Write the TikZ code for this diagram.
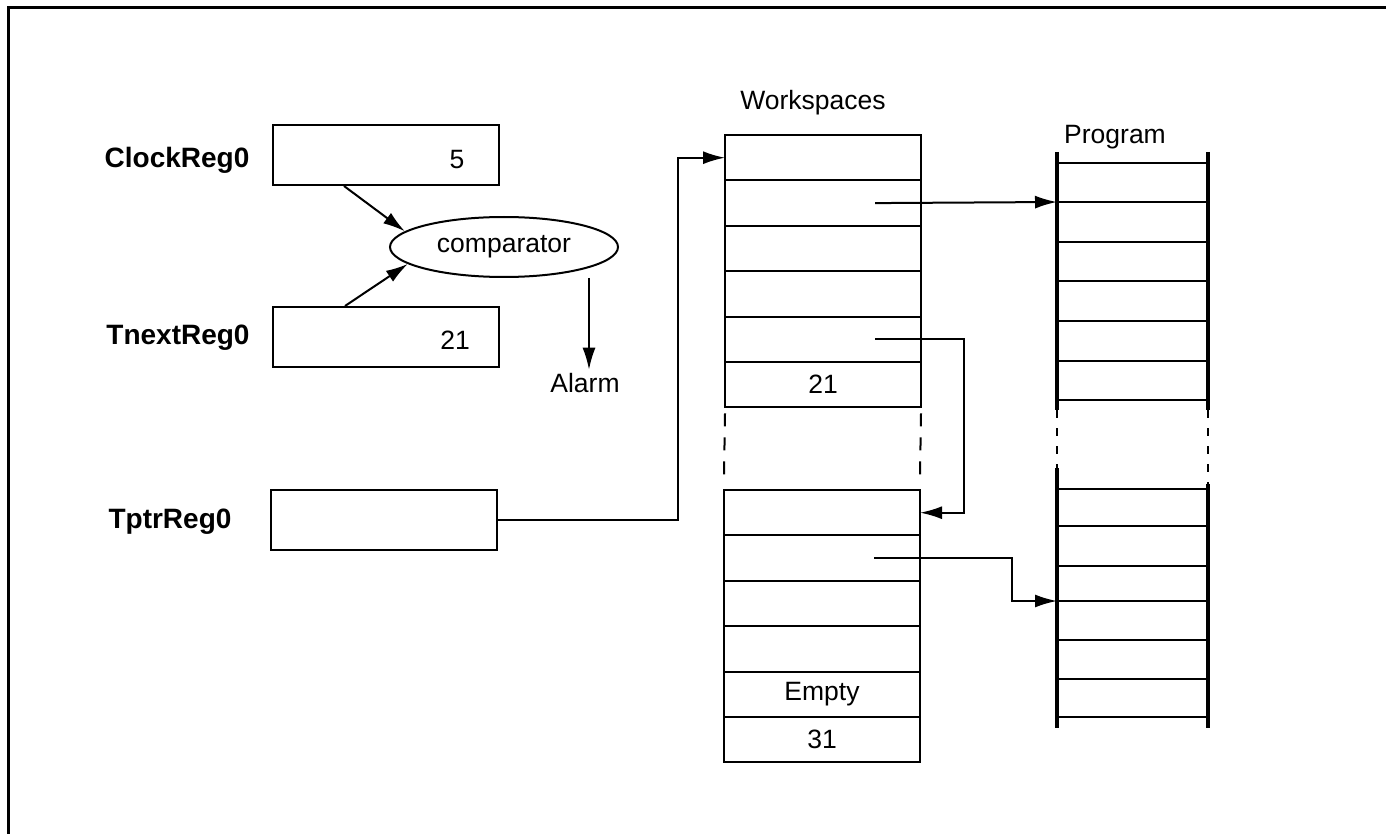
\documentclass[tikz,border=0pt]{standalone}
\usepackage{fontspec}
\setmainfont{Liberation Sans}
\usepackage{tikz}
\usetikzlibrary{shapes, shapes.geometric, arrows.meta, calc, positioning}
\tikzstyle{registre} = [
    rectangle,
    minimum width = 226pt,
    minimum height = 60pt,
    inner sep = 0pt,
    draw = black,
    line width = 2pt,
]
\tikzstyle{ligne} = [
    rectangle,
    minimum width = 196pt,
    minimum height = 45.4pt,
    inner sep = 0pt,
    outer sep = 0pt,
    draw = black,
    line width = 2pt,
]
\tikzstyle{nom} = [font = \fontsize{28}{32}\selectfont\bfseries]
\tikzstyle{fleche} = [-{Latex[length = 22pt, width = 13pt]}, line width = 2pt]
\tikzstyle{trait} = [line width = 2.2pt]
\tikzstyle{montant} = [line width = 3.4pt]

\begin{document}
\begin{tikzpicture} [x = 1pt, y = -1pt, font = \fontsize{26.5}{30}\selectfont]
    \useasboundingbox (0, 0) rectangle (1386, 834);
    \draw[line width = 3pt] (8, 834) -- (8, 8) -- (1386, 8);

    \node (ClockNom) [nom] at (177, 160) {ClockReg0};
    \node (TnextNom) [nom] at (178, 338) {TnextReg0};
    \node (TptrNom) [nom] at (170, 522) {TptrReg0};

    \node (ClockReg) [registre] at (386, 155) {};
    \node (TnextReg) [registre] at (386, 337) {};
    \node (TptrReg) [registre] at (384, 520) {};
    \node (ClockVal) at (457, 160) {5};
    \node (TnextVal) at (455, 340) {21};

    \node (Comparator) [ellipse, draw = black, line width = 2pt, minimum width = 228pt, minimum height = 60pt, inner sep = 0pt] at (504, 247) {comparator};
    \node (Alarm) at (585, 383) {Alarm};

    \draw[fleche] ($(ClockReg.south west) + (72, 0)$) -- (Comparator.171);
    \draw[fleche] ($(TnextReg.north west) + (73, 0)$) -- (Comparator.190);
    \draw[fleche] ($(Comparator.south) + (85, 0)$) -- ($(Alarm.north) + (4, 0)$);

    \node (WsTitre) at (813, 103) {Workspaces};
    \node (WsA1) [ligne, anchor = north] at (823, 135) {};
    \foreach \i [count = \j] in {2, ..., 5}
        \node (WsA\i) [ligne, below = 0pt of WsA\j] {};
    \node (WsA6) [ligne, below = 0pt of WsA5] {21};

    \node (WsB1) [ligne, anchor = north] at (822, 490) {};
    \foreach \i [count = \j] in {2, ..., 4}
        \node (WsB\i) [ligne, below = 0pt of WsB\j] {};
    \node (WsB5) [ligne, below = 0pt of WsB4] {Empty};
    \node (WsB6) [ligne, below = 0pt of WsB5] {31};

    \draw[line width = 2pt, dash pattern = on 13pt off 11pt] ($(WsA6.south west) + (0, 6)$) -- ($(WsB1.north west) + (0, -14)$);
    \draw[line width = 2pt, dash pattern = on 13pt off 11pt] ($(WsA6.south east) + (0, 6)$) -- ($(WsB1.north east) + (0, -14)$);

    \node (ProgTitre) at (1115, 137) {Program};
    \foreach \y [count = \k] in {163, 202, 242, 281, 321, 361, 400}
        \draw[trait] (1057, \y) coordinate (PA\k) -- (1208, \y);
    \foreach \y [count = \k] in {489, 526, 566, 601, 640, 679, 717}
        \draw[trait] (1057, \y) coordinate (PB\k) -- (1208, \y);
    \draw[montant] (1057, 152) -- (1057, 410);
    \draw[montant] (1208, 152) -- (1208, 410);
    \draw[line width = 2.4pt, dash pattern = on 8pt off 10pt] (1057, 410) -- (1057, 468);
    \draw[line width = 2.4pt, dash pattern = on 8pt off 10pt] (1208, 410) -- (1208, 484);
    \draw[montant] (1057, 468) -- (1057, 728);
    \draw[montant] (1208, 484) -- (1208, 728);

    \draw[fleche] (TptrReg.east) -| ($(WsA1.west) + (-47, 0)$) -- (WsA1.west);
    \draw[fleche] ($(WsA2.center) + (52, 0)$) -- (PA2);
    \draw[fleche] ($(WsA5.center) + (52, 0)$) -| ($(WsB1.east) + (44, 0)$) -- (WsB1.east);
    \draw[fleche] ($(WsB2.center) + (52, 0)$) -| ($(PB4) + (-45, 0)$) -- (PB4);
\end{tikzpicture}
\end{document}
